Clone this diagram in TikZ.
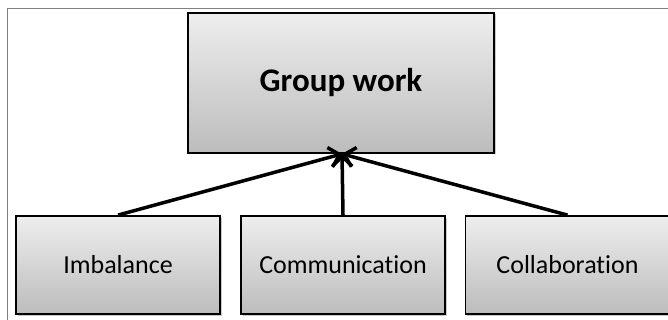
\documentclass[tikz,border=0pt]{standalone}
\usepackage{fontspec}
\setmainfont[Ligatures=NoCommon]{Carlito}
\usetikzlibrary{arrows.meta,shadows}
\definecolor{boxtop}{RGB}{238,238,238}
\definecolor{boxbot}{RGB}{188,188,188}
\definecolor{framegray}{RGB}{128,128,128}
\tikzset{
  gbox/.style={draw=black, line width=1.8pt, top color=boxtop, bottom color=boxbot,
    drop shadow={shadow xshift=1.5pt, shadow yshift=-1.5pt, fill=black!35, opacity=0.6},
    inner sep=0pt, anchor=center},
  topbox/.style={gbox, minimum width=306pt, minimum height=140pt, font=\fontsize{33}{36}\selectfont\bfseries},
  subbox/.style={gbox, minimum width=204pt, minimum height=98pt, font=\fontsize{26}{30}\selectfont},
  link/.style={line width=3.5pt, -{Straight Barb[length=10pt, width=20pt, line width=3.5pt]}}
}
\begin{document}
\begin{tikzpicture}[x=1pt, y=-1pt]
\useasboundingbox (0,0) rectangle (668,320);
\clip (0,0) rectangle (668,320);
\fill[white] (0,0) rectangle (668,320);
\draw[framegray, line width=1.5pt] (7.5,8.5) rectangle (700,340);
\node[topbox] (gw) at (341,83) {Group work};
\node[subbox] (imb) at (118,265) {Imbalance};
\node[subbox] (com) at (343,265) {Communication};
\node[subbox] (col) at (567.5,265) {Collaboration};
\coordinate (tip) at ([xshift=1pt]gw.south);
\draw[link] (imb.north) -- (tip);
\draw[link] (com.north) -- (tip);
\draw[link] (col.north) -- (tip);
\end{tikzpicture}
\end{document}
